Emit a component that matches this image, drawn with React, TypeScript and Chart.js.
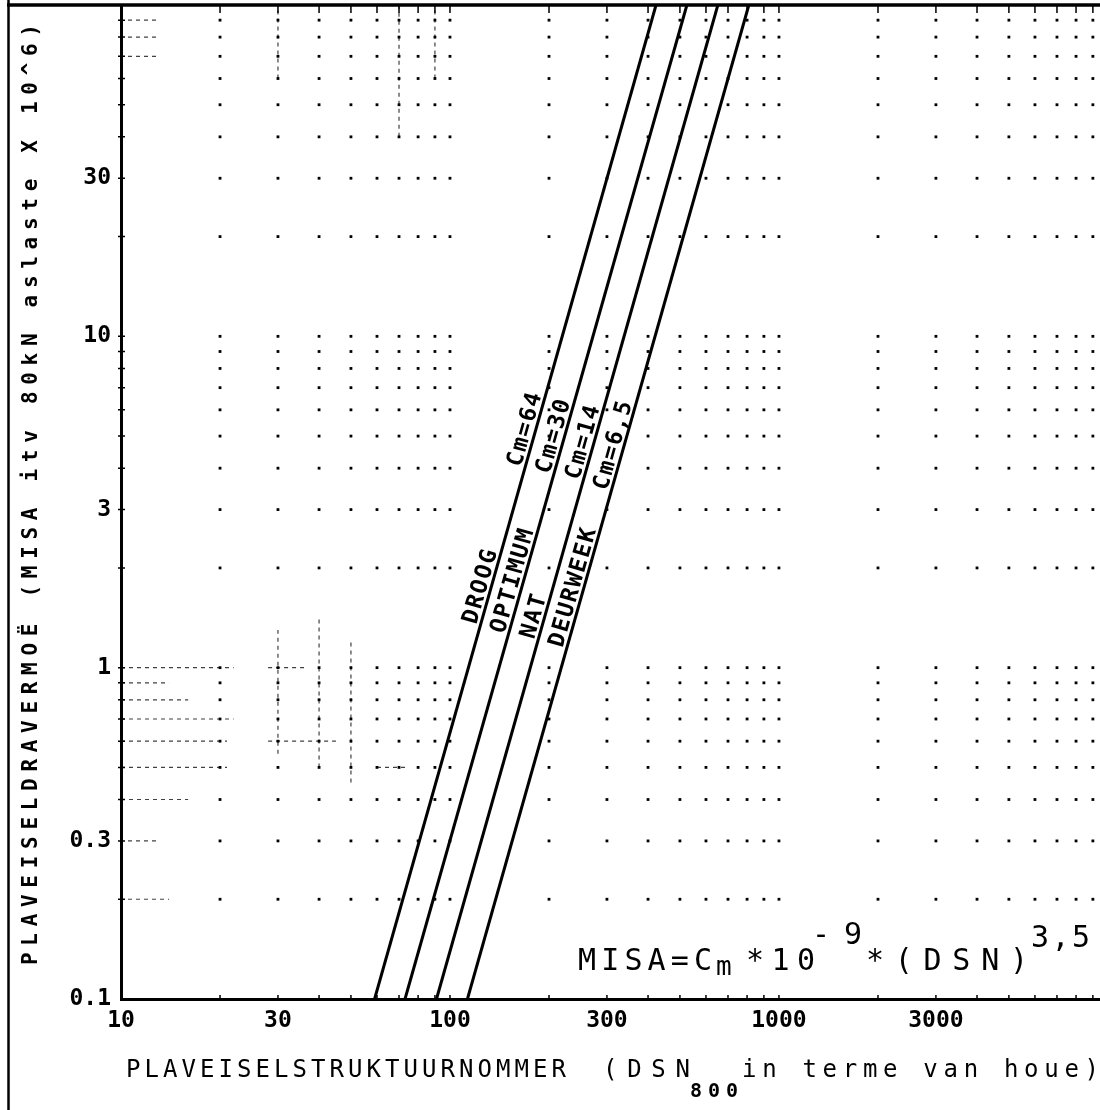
import React, { useEffect, useRef } from 'react';
import { Chart, registerables } from 'chart.js';

Chart.register(...registerables);

// ---- data ----
const X_TICKS = [10, 30, 100, 300, 1000, 3000];
const X_TICK_LABELS = ['10', '30', '100', '300', '1000', '3000'];
const Y_TICKS = [0.1, 0.3, 1, 3, 10, 30];
const Y_TICK_LABELS = ['0.1', '0.3', '1', '3', '10', '30'];

const SERIES_NAMES = ['DROOG', 'OPTIMUM', 'NAT', 'DEURWEEK'];
const CM_LABELS = ['Cm=64', 'Cm=30', 'Cm=14', 'Cm=6,5'];
const MISA_ENDS = [0.1, 100];
const DSN_AT_LOW = [59, 73, 91, 113];
const DSN_AT_HIGH = [423, 525, 652, 810];

const GRID_X = [20, 30, 40, 50, 60, 70, 80, 90, 100, 200, 300, 400, 500, 600, 700, 800, 900, 1000,
  2000, 3000, 4000, 5000, 6000, 7000, 8000, 9000];
const GRID_Y = [0.2, 0.3, 0.4, 0.5, 0.6, 0.7, 0.8, 0.9, 1, 2, 3, 4, 5, 6, 7, 8, 9,
  10, 20, 30, 40, 50, 60, 70, 80, 90];

const X_TITLE_MAIN = 'PLAVEISELSTRUKTUURNOMMER';
const X_TITLE_UNIT = '(DSN';
const X_TITLE_SUB = '800';
const X_TITLE_REST = 'in terme van houe)';
const Y_TITLE = 'PLAVEISELDRAVERMOË (MISA itv 80kN aslaste X 10^6)';

const MONO = '"DejaVu Sans Mono", "Liberation Mono", monospace';

// draw text char by char so that cells run from x0 to x1
function drawSpaced(ctx: CanvasRenderingContext2D, text: string, x0: number, x1: number, y: number) {
  const n = text.length;
  const adv = ctx.measureText('M').width;
  const step = n > 1 ? (x1 - x0 - adv) / (n - 1) : 0;
  ctx.textAlign = 'left';
  for (let i = 0; i < n; i++) {
    ctx.fillText(text[i], x0 + i * step, y);
  }
}

// faint plotter pen traces along some grid lines (grid-value coordinates)
const H_TRACES: [number, number, number][] = [
  [1, 10, 22], [1, 28, 36], [0.9, 10, 14], [0.8, 10, 16], [0.7, 10, 22], [0.6, 10, 21],
  [0.5, 10, 21], [0.4, 10, 16], [0.3, 10.5, 13], [0.2, 10.5, 14],
  [90, 10.5, 13], [80, 10.5, 13], [70, 10.5, 13], [0.5, 60, 75], [0.6, 28, 45],
];
const V_TRACES: [number, number, number][] = [
  [30, 0.55, 1.3], [40, 0.5, 1.4], [50, 0.45, 1.2], [70, 40, 100], [90, 60, 100], [30, 60, 100],
];

const decor = {
  id: 'decor',
  beforeDatasetsDraw(chart: any) {
    const { ctx, chartArea: a, scales } = chart;
    const xs = scales.x, ys = scales.y;
    ctx.save();
    ctx.fillStyle = '#000';
    for (const gx of GRID_X) {
      const px = xs.getPixelForValue(gx);
      if (px > a.right) continue;
      for (const gy of GRID_Y) {
        const py = ys.getPixelForValue(gy);
        ctx.fillRect(px - 1.4, py - 1.4, 2.8, 2.8);
      }
    }
    // pen traces
    ctx.strokeStyle = 'rgba(0,0,0,0.75)';
    ctx.lineWidth = 1.2;
    ctx.setLineDash([4, 4]);
    ctx.beginPath();
    for (const [gy, x0, x1] of H_TRACES) {
      const py = ys.getPixelForValue(gy);
      ctx.moveTo(xs.getPixelForValue(x0), py);
      ctx.lineTo(xs.getPixelForValue(x1), py);
    }
    for (const [gx, y0, y1] of V_TRACES) {
      const px = xs.getPixelForValue(gx);
      ctx.moveTo(px, ys.getPixelForValue(y0));
      ctx.lineTo(px, ys.getPixelForValue(y1));
    }
    ctx.stroke();
    ctx.setLineDash([]);

    ctx.strokeStyle = '#000';
    ctx.lineWidth = 1.5;
    ctx.beginPath();
    for (const gx of GRID_X) {
      const px = xs.getPixelForValue(gx);
      if (px > a.right) continue;
      ctx.moveTo(px, a.top);
      ctx.lineTo(px, a.top + 8);
      ctx.moveTo(px, a.bottom);
      ctx.lineTo(px, a.bottom - 4);
    }
    for (const gy of GRID_Y) {
      const py = ys.getPixelForValue(gy);
      ctx.moveTo(a.left - 3, py);
      ctx.lineTo(a.left + 4, py);
    }
    ctx.stroke();
    ctx.restore();
  },
  afterDatasetsDraw(chart: any) {
    const { ctx, scales } = chart;
    const xs = scales.x, ys = scales.y;
    // label anchors: MISA value on each line where the label centre sits
    const nameAt = [1.72, 1.79, 1.4, 1.71];
    const cmAt = [5.13, 4.89, 4.69, 4.59];
    ctx.save();
    ctx.fillStyle = '#000';
    ctx.font = `bold 23px ${MONO}`;
    ctx.textBaseline = 'alphabetic';
    for (let i = 0; i < SERIES_NAMES.length; i++) {
      const p0 = { x: xs.getPixelForValue(DSN_AT_LOW[i]), y: ys.getPixelForValue(MISA_ENDS[0]) };
      const p1 = { x: xs.getPixelForValue(DSN_AT_HIGH[i]), y: ys.getPixelForValue(MISA_ENDS[1]) };
      const ang = Math.atan2(p1.y - p0.y, p1.x - p0.x);
      const foot = (m: number) => {
        const py = ys.getPixelForValue(m);
        const t = (py - p0.y) / (p1.y - p0.y);
        return { x: p0.x + t * (p1.x - p0.x), y: py };
      };
      const put = (text: string, m: number) => {
        const f = foot(m);
        const step = 15.5;
        const adv = ctx.measureText('M').width;
        const total = (text.length - 1) * step + adv;
        ctx.save();
        ctx.translate(f.x, f.y);
        ctx.rotate(ang);
        drawSpaced(ctx, text, -total / 2, total / 2, -4);
        ctx.restore();
      };
      put(SERIES_NAMES[i], nameAt[i]);
      put(CM_LABELS[i], cmAt[i]);
    }
    ctx.restore();
  },
  afterDraw(chart: any) {
    const { ctx, chartArea: a } = chart;
    ctx.save();
    ctx.strokeStyle = '#000';
    ctx.fillStyle = '#000';
    // outer frame
    ctx.lineWidth = 2.5;
    ctx.beginPath();
    ctx.moveTo(8.5, 0);
    ctx.lineTo(8.5, 1110);
    ctx.stroke();
    ctx.lineWidth = 3.5;
    ctx.beginPath();
    ctx.moveTo(7, a.top);
    ctx.lineTo(1100, a.top);
    ctx.stroke();

    // formula
    ctx.textBaseline = 'alphabetic';
    ctx.font = `30px ${MONO}`;
    drawSpaced(ctx, 'MISA=C', 578, 712, 970);
    ctx.font = `26px ${MONO}`;
    drawSpaced(ctx, 'm', 716, 743, 975);
    ctx.font = `30px ${MONO}`;
    drawSpaced(ctx, '*10', 746, 815, 970);
    drawSpaced(ctx, '-9', 812, 862, 944);
    drawSpaced(ctx, '*(DSN)', 866, 1028, 970);
    drawSpaced(ctx, '3,5', 1031, 1090, 947);

    // x title
    ctx.font = `24px ${MONO}`;
    drawSpaced(ctx, X_TITLE_MAIN, 126, 566, 1077);
    drawSpaced(ctx, X_TITLE_UNIT, 603, 690, 1077);
    ctx.font = `bold 20px ${MONO}`;
    drawSpaced(ctx, X_TITLE_SUB, 690, 738, 1097);
    ctx.font = `24px ${MONO}`;
    drawSpaced(ctx, X_TITLE_REST, 742, 1099, 1077);

    // y title
    ctx.save();
    ctx.translate(29, 965);
    ctx.rotate(-Math.PI / 2);
    ctx.font = `bold 21px ${MONO}`;
    drawSpaced(ctx, Y_TITLE, 0, 965 - 24, 7.5);
    ctx.restore();

    ctx.restore();
  },
};

export default function App() {
  const ref = useRef<HTMLCanvasElement>(null);
  useEffect(() => {
    const canvas = ref.current;
    if (!canvas) return;
    const datasets = SERIES_NAMES.map((name, i) => ({
      label: `${name} ${CM_LABELS[i]}`,
      data: [
        { x: DSN_AT_LOW[i], y: MISA_ENDS[0] },
        { x: DSN_AT_HIGH[i], y: MISA_ENDS[1] },
      ],
      borderColor: '#000',
      borderWidth: 3,
      pointRadius: 0,
      fill: false,
      tension: 0,
    }));
    const tickFont = { family: MONO, size: 23, weight: 'bold' as const };
    const chart = new Chart(canvas, {
      type: 'line',
      data: { datasets },
      options: {
        animation: false,
        responsive: false,
        devicePixelRatio: 1,
        layout: { padding: { top: 5, left: 0, right: 0, bottom: 0 } },
        scales: {
          x: {
            type: 'logarithmic',
            position: 'bottom',
            min: 10,
            max: 9460,
            grid: { display: false, drawTicks: false },
            border: { display: true, color: '#000', width: 3 },
            ticks: {
              color: '#000',
              font: tickFont,
              padding: 8,
              maxRotation: 0,
              autoSkip: false,
              callback: (v: any) => {
                const i = X_TICKS.indexOf(Number(v));
                return i >= 0 ? X_TICK_LABELS[i] : '';
              },
            },
            afterBuildTicks: (s: any) => {
              s.ticks = X_TICKS.map((v) => ({ value: v }));
            },
            afterFit: (s: any) => {
              s.height = 111;
              s.paddingLeft = 0;
              s.paddingRight = 0;
            },
          },
          y: {
            type: 'logarithmic',
            position: 'left',
            min: 0.1,
            max: 100,
            grid: { display: false, drawTicks: false },
            border: { display: true, color: '#000', width: 3 },
            ticks: {
              color: '#000',
              font: tickFont,
              padding: 10,
              autoSkip: false,
              callback: (v: any) => {
                const i = Y_TICKS.indexOf(Number(v));
                return i >= 0 ? Y_TICK_LABELS[i] : '';
              },
            },
            afterBuildTicks: (s: any) => {
              s.ticks = Y_TICKS.map((v) => ({ value: v }));
            },
            afterFit: (s: any) => {
              s.width = 121;
              s.paddingTop = 0;
              s.paddingBottom = 0;
            },
          },
        },
        plugins: {
          legend: { display: false },
          tooltip: { enabled: false },
        },
      } as any,
      plugins: [decor],
    });
    return () => chart.destroy();
  }, []);
  return (
    <canvas
      ref={ref}
      width={1100}
      height={1110}
      style={{ position: 'absolute', left: 0, top: 0, display: 'block', width: 1100, height: 1110 }}
    />
  );
}
